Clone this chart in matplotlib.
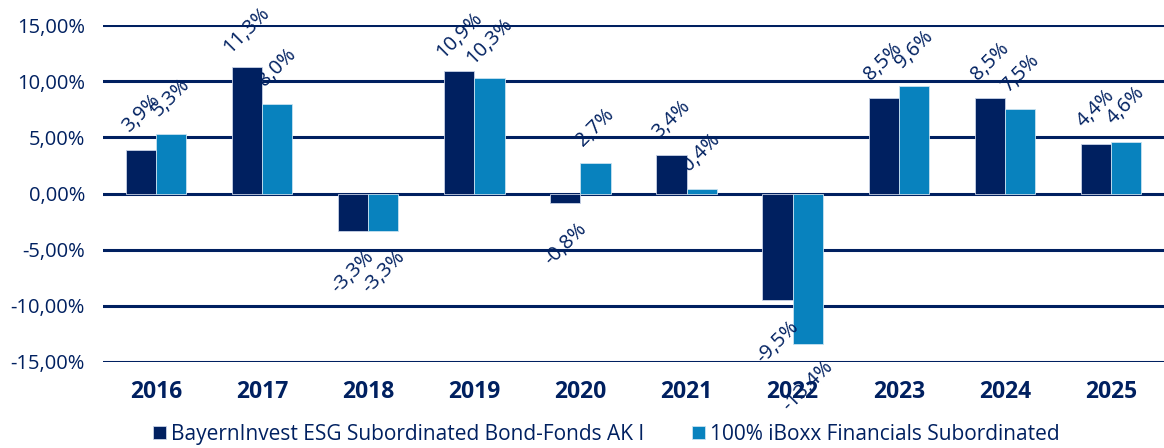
import matplotlib.pyplot as plt
import numpy as np

years = ['2016', '2017', '2018', '2019', '2020', '2021', '2022', '2023', '2024', '2025']
fund = [3.9, 11.3, -3.3, 10.9, -0.8, 3.4, -9.5, 8.5, 8.5, 4.4]
bench = [5.3, 8.0, -3.3, 10.3, 2.7, 0.4, -13.4, 9.6, 7.5, 4.6]
names = ['BayernInvest ESG Subordinated Bond-Fonds AK I', '100% iBoxx Financials Subordinated']
yticks = [-15, -10, -5, 0, 5, 10, 15]

navy = '#002060'
blue = '#0882BE'

plt.rcParams['font.family'] = ['Open Sans', 'DejaVu Sans']

fig = plt.figure(figsize=(11.64, 4.48), dpi=100)
ax = fig.add_axes([0.0885, 0.192, 0.9115, 0.752])

x = np.arange(len(years))
w = 0.285
b1 = ax.bar(x - w / 2, fund, w, color=navy, edgecolor='#c8d2e6', linewidth=0.6, label=names[0], zorder=3)
b2 = ax.bar(x + w / 2, bench, w, color=blue, edgecolor='#c8e2f0', linewidth=0.6, label=names[1], zorder=3)

# rotated value labels, centred a fixed distance beyond the bar end
for bars, vals in [(b1, fund), (b2, bench)]:
    for r, v in zip(bars, vals):
        cx = r.get_x() + r.get_width() / 2
        txt = f'{v:.1f}%'.replace('.', ',')
        dy = 26 if v >= 0 else -30
        ax.annotate(txt, (cx, v), xytext=(0, dy), textcoords='offset points',
                    rotation=45, rotation_mode='anchor', ha='center', va='center',
                    color=navy, fontsize=14.5, zorder=4)

for t in yticks:
    ax.axhline(t, color=navy, linewidth=2.2, zorder=1)

ax.set_ylim(-15, 15)
ax.set_xlim(-0.5, 9.5)
ax.set_yticks(yticks)
ax.set_yticklabels([f'{t:.2f}%'.replace('.', ',') for t in yticks], color=navy, fontsize=14.5)
ax.set_xticks(x)
ax.set_xticklabels(years, color=navy, fontsize=16.5, fontweight='bold')
ax.tick_params(axis='x', length=0, pad=13)
ax.tick_params(axis='y', length=0, pad=13)
for s in ax.spines.values():
    s.set_visible(False)

fig.legend(handles=[b1, b2], labels=names, loc='center', bbox_to_anchor=(0.521, 0.03), ncol=2,
           frameon=False, fontsize=15, labelcolor=navy, handlelength=0.6, handleheight=0.6,
           handletextpad=0.25, columnspacing=2.3, borderaxespad=0)

plt.savefig('out.png', dpi=100)
plt.close()
